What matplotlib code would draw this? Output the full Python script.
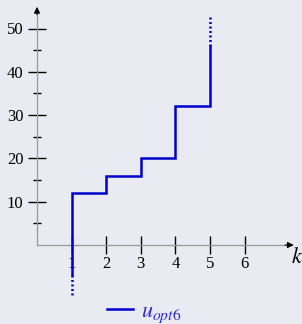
import matplotlib
matplotlib.use("Agg")
import matplotlib.pyplot as plt

plt.rcParams['font.family'] = ['Liberation Serif', 'DejaVu Serif']
plt.rcParams['mathtext.fontset'] = 'stix'

# step values of u_opt6 at k = 1..5
k = [1, 2, 3, 4, 5]
u = [12, 16, 20, 32, 46]
# dotted continuations past the ends
bottom_solid = -7
bottom_dot = -11.5
top_dot = 53

x_ticks = [1, 2, 3, 4, 5, 6]
y_ticks = [10, 20, 30, 40, 50]
y_minor = [5, 15, 25, 35, 45]
x_end = 7.37
y_end = 54.7

bg = '#eaeaf2'
blue = '#0000cc'

fig = plt.figure(figsize=(3.02, 3.24), dpi=100, facecolor=bg)
ax = fig.add_axes([0, 0, 1, 1], facecolor=bg)

# pixel mapping: x=0 at 37px, 34.6 px/unit; y=0 at 245px, 4.33 px/unit
ax.set_xlim(-37 / 34.6, (302 - 37) / 34.6)
ax.set_ylim(-(324 - 245) / 4.33, 245 / 4.33)

# step line
xs = [k[0]]
ys = [bottom_solid]
for i in range(len(k)):
    xs += [k[i], k[i]]
    ys += [ys[-1], u[i]]
    if i + 1 < len(k):
        xs.append(k[i + 1])
        ys.append(u[i])
ax.plot(xs, ys, color=blue, lw=1.8, zorder=5, solid_joinstyle='miter',
        label=r'$u_{opt6}$')
ax.plot([k[0], k[0]], [bottom_solid, bottom_dot], color=blue, lw=1.8,
        ls=(0, (0.8, 1.0)), zorder=5)
ax.plot([k[-1], k[-1]], [u[-1], top_dot], color=blue, lw=1.8,
        ls=(0, (0.8, 1.0)), zorder=5)

# axes through origin
for s in ['top', 'right']:
    ax.spines[s].set_visible(False)
ax.spines['left'].set_position(('data', 0))
ax.spines['bottom'].set_position(('data', 0))
ax.spines['left'].set_bounds(0, y_end)
ax.spines['bottom'].set_bounds(0, x_end)
for s in ['left', 'bottom']:
    ax.spines[s].set_color('#999999')
    ax.spines[s].set_linewidth(0.9)

ax.annotate('', xy=(0, y_end + 0.3), xytext=(0, y_end - 1.5),
            arrowprops=dict(arrowstyle='-|>', color='black', lw=0.8,
                            mutation_scale=9, shrinkA=0, shrinkB=0))
ax.annotate('', xy=(x_end + 0.05, 0), xytext=(x_end - 0.2, 0),
            arrowprops=dict(arrowstyle='-|>', color='black', lw=0.8,
                            mutation_scale=9, shrinkA=0, shrinkB=0))

ax.set_xticks(x_ticks)
ax.set_yticks(y_ticks)
ax.set_yticks(y_minor, minor=True)
ax.tick_params(axis='x', which='major', direction='inout', length=13,
               width=1, color='black', labelsize=12, pad=1.5)
ax.tick_params(axis='y', which='major', direction='inout', length=12.7,
               width=1, color='black', labelsize=12, pad=3.5)
ax.tick_params(axis='y', which='minor', direction='inout', length=6.3,
               width=1, color='black')

ax.text((297 - 37) / 34.6, (245 - 258) / 4.33, r'$k$', fontsize=16,
        ha='center', va='center')

fig.legend(loc='center', bbox_to_anchor=(144 / 302, 1 - 313 / 324),
           frameon=False, handlelength=1.2, fontsize=16, labelcolor='#2a2ad0',
           handletextpad=0.35, borderpad=0, borderaxespad=0)

fig.savefig('out.png', dpi=100, facecolor=bg)
